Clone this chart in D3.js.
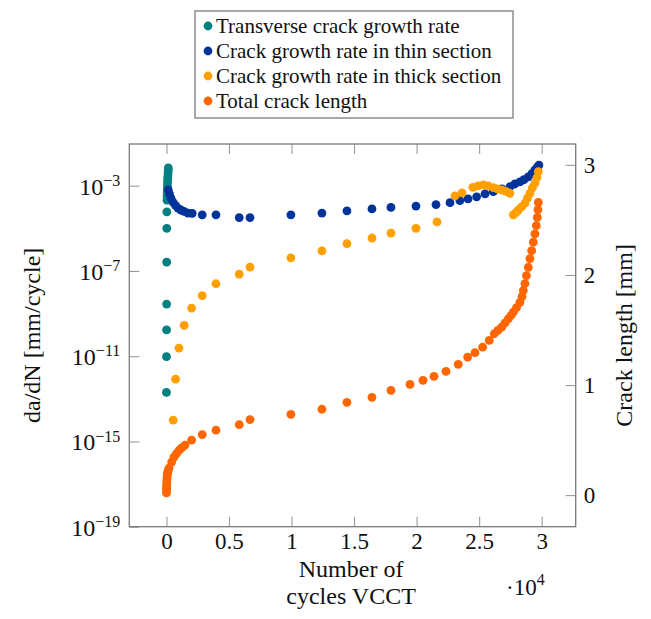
<!DOCTYPE html>
<html>
<head>
<meta charset="utf-8">
<script src="https://cdn.jsdelivr.net/npm/d3@7"></script>
<style>
  html, body { margin: 0; padding: 0; background: #fff; }
  svg { display: block; }
</style>
</head>
<body>
<svg id="chart" width="651" height="619"></svg>
<script>
// ---- data ---------------------------------------------------------------
// Transverse crack growth rate (mm/cycle) vs. cycles
const transverseCycles = [150, 140, 130, 120, 110, 100, 90, 80, 70, 60, 50, 40, 30, 25, 20, 15, 10, 5, 0];
const transverseRate   = [6.8e-3, 5.5e-3, 4.4e-3, 3.2e-3, 2.4e-3, 1.9e-3, 1.4e-3, 9.8e-4, 7.1e-4, 5.0e-4,
                          3.3e-4, 2.1e-4, 5.9e-5, 1.0e-5, 2.6e-7, 2.8e-9, 1.7e-10, 9.5e-12, 2.0e-13];

// Crack growth rate in the thin section (mm/cycle)
const thinCycles = [145, 240, 360, 520, 720, 920, 1160, 1400, 1720, 2060, 2860, 3960, 5820, 6680,
                    9950, 12430, 14430, 16430, 17950, 19950, 21550, 22670, 23460, 24110, 24800, 25470,
                    26130, 26820, 27460, 27860, 28260, 28580, 28930, 29220, 29460, 29660, 29780];
const thinRate   = [6.3e-4, 4.1e-4, 2.6e-4, 1.7e-4, 1.2e-4, 8.9e-5, 7.2e-5, 6.2e-5, 5.2e-5, 5.0e-5,
                    4.3e-5, 4.3e-5, 3.2e-5, 3.2e-5, 4.3e-5, 5.2e-5, 6.5e-5, 8.1e-5, 9.5e-5, 1.1e-4,
                    1.3e-4, 1.6e-4, 2.0e-4, 2.4e-4, 3.0e-4, 4.1e-4, 5.2e-4, 7.1e-4, 8.9e-4, 1.2e-3,
                    1.5e-3, 1.9e-3, 2.6e-3, 3.7e-3, 5.5e-3, 7.6e-3, 9.3e-3];

// Crack growth rate in the thick section (mm/cycle)
const thickCycles = [540, 730, 1000, 1420, 2010, 2860, 3960, 5820, 6680, 9950, 12430, 14430, 16430,
                     17950, 19950, 21630, 23070, 23630, 24500, 24910, 25330, 25710, 26130, 26460,
                     26800, 27140, 27460, 27730, 27940, 28130, 28390, 28660, 28860, 29060, 29260,
                     29460, 29620, 29730];
const thickRate   = [1.0e-14, 8.3e-13, 2.4e-11, 2.8e-10, 1.8e-9, 6.9e-9, 2.5e-8, 7.1e-8, 1.5e-7,
                     4.1e-7, 8.7e-7, 1.9e-6, 3.5e-6, 6.0e-6, 1.0e-5, 2.0e-5, 3.3e-4, 4.6e-4, 8.3e-4,
                     9.8e-4, 1.1e-3, 9.8e-4, 8.1e-4, 7.1e-4, 6.3e-4, 5.4e-4, 4.4e-4, 4.3e-5, 5.5e-5,
                     7.2e-5, 1.0e-4, 1.5e-4, 2.6e-4, 4.4e-4, 7.8e-4, 1.3e-3, 2.4e-3, 4.6e-3];

// Total crack length (mm), right-hand axis
const lengthCycles = [0, 5, 10, 15, 20, 30, 40, 50, 60, 80, 110, 150, 200, 415, 600, 800, 1020, 1240,
                      1480, 2010, 2860, 3960, 5820, 6680, 9950, 12430, 14430, 16430, 17950, 19470,
                      20510, 21390, 22350, 23330, 24080, 24670, 25280, 25810, 26210, 26500, 26800,
                      27070, 27330, 27550, 27730, 27990, 28260, 28430, 28530, 28660, 28780, 28930,
                      29060, 29200, 29330, 29460, 29570, 29650, 29700, 29730];
const lengthMm     = [0.02, 0.04, 0.06, 0.08, 0.10, 0.12, 0.14, 0.16, 0.18, 0.20, 0.21, 0.225, 0.245,
                      0.30, 0.345, 0.376, 0.408, 0.431, 0.453, 0.499, 0.55, 0.59, 0.64, 0.686, 0.734,
                      0.78, 0.843, 0.888, 0.952, 1.006, 1.043, 1.079, 1.124, 1.188, 1.254, 1.294,
                      1.344, 1.405, 1.466, 1.496, 1.526, 1.564, 1.602, 1.632, 1.662, 1.704, 1.752,
                      1.804, 1.859, 1.922, 1.995, 2.07, 2.149, 2.221, 2.298, 2.373, 2.448, 2.523,
                      2.593, 2.659];

const xTicks      = [0, 5000, 10000, 15000, 20000, 25000, 30000];
const xTickLabels = ["0", "0.5", "1", "1.5", "2", "2.5", "3"];
const rateTicks   = [1e-3, 1e-7, 1e-11, 1e-15, 1e-19];
const rateExps    = ["−3", "−7", "−11", "−15", "−19"];
const lengthTicks = [0, 1, 2, 3];

const seriesNames  = ["Transverse crack growth rate", "Crack growth rate in thin section",
                      "Crack growth rate in thick section", "Total crack length"];
const seriesColors = ["#008080", "#003399", "#ffa000", "#ff6600"];

// ---- layout -------------------------------------------------------------
const FONT = "'Liberation Serif', 'Times New Roman', serif";
const svg = d3.select("#chart").attr("font-family", FONT);
const L = 129.3, R = 575.7, T = 144, B = 526.7;
const r = 4.4;

const x  = d3.scaleLinear().domain([-2970, 32720]).range([L, R]);
const yL = d3.scaleLog().domain([1e-19, Math.pow(10, -1.045)]).range([B, T]);
const yR = d3.scaleLinear().domain([-0.287, 3.19]).range([B, T]);

const axisColor = "#7a7a7a";

// axes (ticks point inward)
const gx = svg.append("g").attr("transform", `translate(0,${B})`)
  .call(d3.axisBottom(x).tickValues(xTicks).tickSize(-10).tickFormat((d, i) => xTickLabels[i]).tickPadding(6));
const gxTop = svg.append("g").attr("transform", `translate(0,${T})`)
  .call(d3.axisTop(x).tickValues(xTicks).tickSize(-10).tickFormat(""));
const gyL = svg.append("g").attr("transform", `translate(${L},0)`)
  .call(d3.axisLeft(yL).tickValues(rateTicks).tickSize(-10).tickFormat(""));
const gyR = svg.append("g").attr("transform", `translate(${R},0)`)
  .call(d3.axisRight(yR).tickValues(lengthTicks).tickSize(-10).tickFormat(d3.format("d")).tickPadding(8));

[gx, gxTop, gyL, gyR].forEach(g => {
  g.attr("font-family", FONT);
  g.select(".domain").remove();
  g.selectAll(".tick line").attr("stroke", "#9a9a9a").attr("stroke-width", 1.1);
});
[gx, gyR].forEach(g => g.selectAll(".tick text")
  .attr("font-size", 23).attr("font-family", FONT).attr("fill", "#111"));

// log-axis labels as powers of ten
gyL.selectAll(".tick").each(function(d, i) {
  const t = d3.select(this).append("text")
    .attr("x", -9).attr("dy", "0.35em").attr("text-anchor", "end")
    .attr("font-family", FONT).attr("font-size", 24).attr("fill", "#111");
  t.append("tspan").text("10");
  t.append("tspan").attr("font-size", 16).attr("dy", "-0.55em").text(rateExps[i]);
});

// frame
svg.append("rect").attr("x", L).attr("y", T).attr("width", R - L).attr("height", B - T)
  .attr("fill", "none").attr("stroke", axisColor).attr("stroke-width", 1.3);

// ---- marks --------------------------------------------------------------
const plot = svg.append("g");
function dots(cycles, values, yScale, color) {
  plot.append("g").selectAll("circle")
    .data(d3.zip(cycles, values))
    .join("circle")
    .attr("cx", d => x(d[0]))
    .attr("cy", d => yScale(d[1]))
    .attr("r", r)
    .attr("fill", color);
}
dots(transverseCycles, transverseRate, yL, seriesColors[0]);
dots(thinCycles, thinRate, yL, seriesColors[1]);
dots(thickCycles, thickRate, yL, seriesColors[2]);
dots(lengthCycles, lengthMm, yR, seriesColors[3]);

// ---- labels -------------------------------------------------------------
function label(sel) {
  return sel.append("text").attr("font-family", FONT).attr("fill", "#111");
}
label(svg).attr("transform", `translate(40,${(T + B) / 2}) rotate(-90)`)
  .attr("text-anchor", "middle").attr("font-size", 24).text("da/dN [mm/cycle]");
label(svg).attr("transform", `translate(632,${(T + B) / 2}) rotate(-90)`)
  .attr("text-anchor", "middle").attr("font-size", 24).text("Crack length [mm]");

const cx = (x(0) + x(30000)) / 2 - 3;
label(svg).attr("x", cx).attr("y", 577).attr("text-anchor", "middle")
  .attr("font-size", 24).text("Number of");
label(svg).attr("x", cx).attr("y", 604).attr("text-anchor", "middle")
  .attr("font-size", 24).text("cycles VCCT");
const mult = label(svg).attr("x", 506).attr("y", 595).attr("font-size", 23);
mult.append("tspan").text("·10");
mult.append("tspan").attr("font-size", 16).attr("dy", "-0.6em").text("4");

// ---- legend -------------------------------------------------------------
const lg = svg.append("g");
lg.append("rect").attr("x", 195).attr("y", 11).attr("width", 318).attr("height", 107)
  .attr("fill", "#fff").attr("stroke", axisColor).attr("stroke-width", 1.3);
seriesNames.forEach((name, i) => {
  const cy = 26 + i * 25;
  lg.append("circle").attr("cx", 208).attr("cy", cy).attr("r", r).attr("fill", seriesColors[i]);
  label(lg).attr("x", 216).attr("y", cy).attr("dy", "0.33em")
    .attr("font-size", 21).text(name);
});
</script>
</body>
</html>
